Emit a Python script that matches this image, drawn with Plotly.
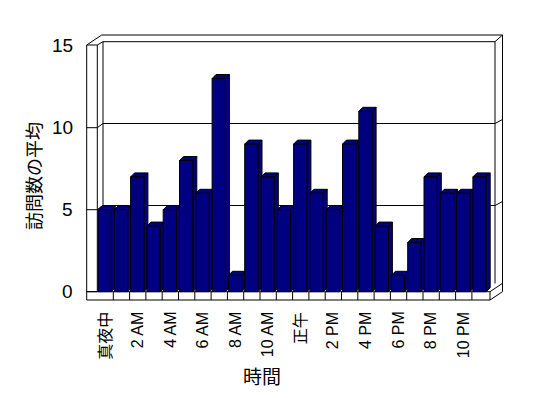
import plotly.graph_objects as go

# ---- data ----
hours = list(range(24))
visits = [5, 5, 7, 4, 5, 8, 6, 13, 1, 9, 7, 5, 9, 6, 5, 9, 11, 4, 1, 3, 7, 6, 6, 7]
tick_labels = ["真夜中", "2 AM", "4 AM", "6 AM", "8 AM", "10 AM",
               "正午", "2 PM", "4 PM", "6 PM", "8 PM", "10 PM"]
tick_hours = [0, 2, 4, 6, 8, 10, 12, 14, 16, 18, 20, 22]
y_ticks = [0, 5, 10, 15]
y_title = "訪問数の平均"
x_title = "時間"

# ---- layout geometry (pixel mapping, page coords; page body has 8px margin) ----
OFF = 8
W, H = 548 - OFF, 398 - OFF
PX_X0, PX_DX = 104.65, 16.3      # category centre of hour 0, pitch
PX_Y0, PX_DY = 291.7, 16.4       # value 0 baseline, px per unit


def X(px):
    return (px - PX_X0) / PX_DX


def Y(py):
    return (PX_Y0 - py) / PX_DY


BW = 13.3 / PX_DX      # bar front width
DX = 4.0 / PX_DX       # depth offset x
DY = 4.0 / PX_DY       # depth offset y
NAVY = "#000080"
LINE = dict(color="black", width=1)

fig = go.Figure()


def poly(xs, ys, fill=None, width=1):
    kw = dict(x=xs, y=ys, mode="lines", line=dict(color="black", width=width),
              hoverinfo="skip", showlegend=False)
    if fill:
        kw.update(fill="toself", fillcolor=fill)
    fig.add_trace(go.Scatter(**kw))


# walls: left wall front slab
poly([X(86.7), X(86.7), X(97.3), X(97.3), X(86.7)],
     [Y(300), Y(45), Y(45), Y(291.7), Y(291.7)])
# wall tops / edges
poly([X(86.7), X(101.7), X(502.5), X(502.5)], [Y(45), Y(35), Y(35), Y(291.7)])
poly([X(97.3), X(103), X(495), X(495)], [Y(45), Y(41.7), Y(41.7), Y(283.5)])
poly([X(495), X(502.5)], [Y(41.7), Y(35)])
poly([X(103), X(103)], [Y(41.7), Y(287.5)])

# gridlines
for v in y_ticks[1:-1]:
    yf = v
    yb = v + 4.2 / PX_DY
    poly([X(86.7), X(97.3), X(103), X(495), X(502.5)],
         [yf, yf, yb, yb, yb + 4.0 / PX_DY])

# floor front slab with category cells
poly([X(86.7), X(490), X(490), X(86.7)], [Y(291.7), Y(291.7), Y(300), Y(300)])
cx, cy = [], []
for i in range(1, 24):
    bx = X(97.0) + i
    cx += [bx, bx, None]
    cy += [Y(291.7), Y(300), None]
fig.add_trace(go.Scatter(x=cx, y=cy, mode="lines", line=LINE,
                         hoverinfo="skip", showlegend=False))
poly([X(490), X(502.5)], [Y(291.7), Y(283.3)])
poly([X(490), X(502.5)], [Y(300), Y(291.7)])

# bars (sides, tops, fronts)
sx, sy, tx, ty, fx, fy = [], [], [], [], [], []
for h, v in zip(hours, visits):
    l, r = h - BW / 2, h + BW / 2
    sx += [r, r + DX, r + DX, r, r, None]
    sy += [0, DY, v + DY, v, 0, None]
    tx += [l, r, r + DX, l + DX, l, None]
    ty += [v, v, v + DY, v + DY, v, None]
    fx += [l, r, r, l, l, None]
    fy += [0, 0, v, v, 0, None]
for xs, ys in ((sx, sy), (tx, ty), (fx, fy)):
    fig.add_trace(go.Scatter(x=xs, y=ys, mode="lines", fill="toself",
                             fillcolor=NAVY, line=LINE,
                             hoverinfo="skip", showlegend=False))

LAT = "Liberation Sans, Noto Sans CJK JP, sans-serif"
CJK = "Noto Sans CJK JP, sans-serif"
ann = []
for v in y_ticks:
    ann.append(dict(x=X(75), y=v, text=str(v), showarrow=False, xanchor="right",
                    yanchor="middle", font=dict(family=LAT, size=19, color="black")))
for h, t in zip(tick_hours, tick_labels):
    ann.append(dict(x=h, y=Y(310), text=t, showarrow=False, textangle=-90,
                    xanchor="center", yanchor="top",
                    font=dict(family=LAT, size=16, color="black")))
ann.append(dict(x=X(33), y=Y(176), text=y_title, showarrow=False, textangle=-90,
                xanchor="center", yanchor="middle",
                font=dict(family=CJK, size=18, color="black")))
ann.append(dict(x=X(262), y=Y(375), text=x_title, showarrow=False,
                xanchor="center", yanchor="middle",
                font=dict(family=CJK, size=19, color="black")))

fig.update_layout(
    width=W, height=H, margin=dict(l=0, r=0, t=0, b=0),
    paper_bgcolor="white", plot_bgcolor="white",
    xaxis=dict(range=[X(OFF), X(OFF + W)], visible=False, fixedrange=True),
    yaxis=dict(range=[Y(OFF + H), Y(OFF)], visible=False, fixedrange=True),
    annotations=ann, showlegend=False,
)
fig.write_html("out.html")
